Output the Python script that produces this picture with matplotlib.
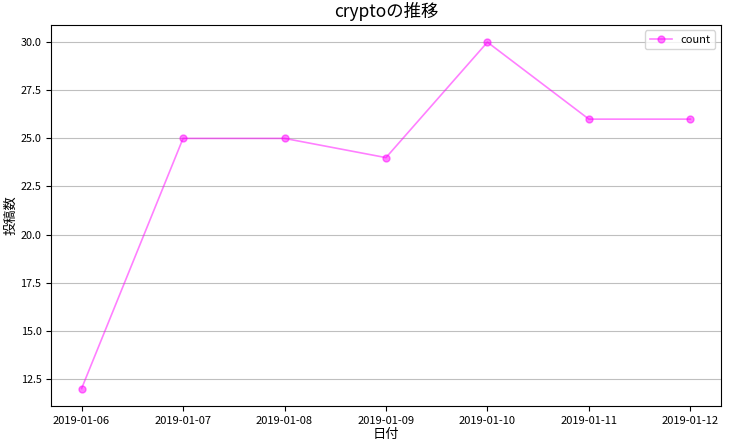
import numpy as np
import pandas as pd
import matplotlib
matplotlib.use('Agg')
import matplotlib.pyplot as plt

plt.rcParams['font.family'] = ['Noto Sans CJK JP', 'DejaVu Sans']

dates = ['2019-01-06', '2019-01-07', '2019-01-08', '2019-01-09',
         '2019-01-10', '2019-01-11', '2019-01-12']
counts = [12, 25, 25, 24, 30, 26, 26]

x = pd.to_datetime(dates)

fig = plt.figure(figsize=(7.31, 4.44), dpi=100)
ax = fig.add_axes([0.070, 0.086, 0.916, 0.858])
ax.plot(x, counts, color='magenta', alpha=0.5, marker='o', markersize=5,
        lw=1.2, label='count')
ax.set_xticks(x)
ax.set_xticklabels(dates, fontsize=8)
ax.tick_params(axis='y', labelsize=7.8)
ax.set_yticks([12.5, 15.0, 17.5, 20.0, 22.5, 25.0, 27.5, 30.0])
ax.grid(axis='y', color='0.75', lw=0.8)
ax.set_xlabel('日付', fontsize=9.5, labelpad=2)
ax.set_ylabel('投稿数', fontsize=9.5, labelpad=2)
ax.set_title('cryptoの推移', fontsize=12.5)
ax.legend(loc='upper right', fontsize=8)

fig.savefig('out.png', dpi=100)
